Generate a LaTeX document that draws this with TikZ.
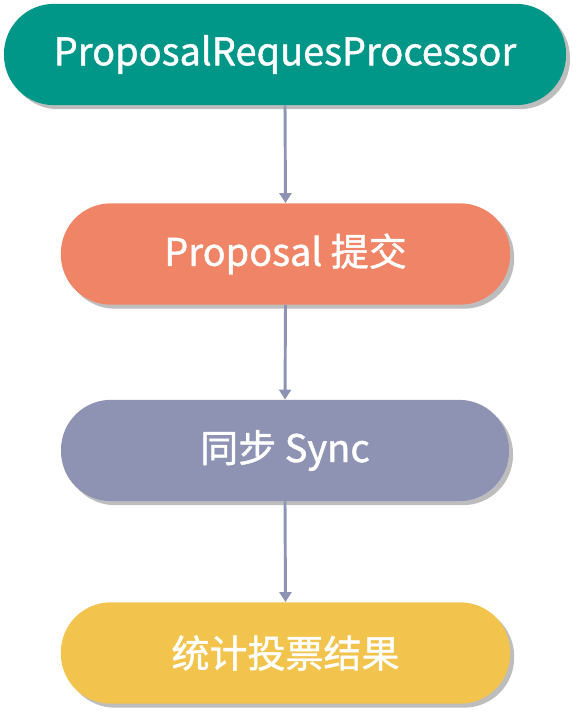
\documentclass[tikz,border=0pt]{standalone}
\usepackage{fontspec}
\setmainfont{Noto Sans CJK SC}[FakeBold=1.2]
\usetikzlibrary{shadows,arrows.meta}
\definecolor{cteal}{RGB}{0,150,136}
\definecolor{csalmon}{RGB}{240,132,102}
\definecolor{cslate}{RGB}{142,147,179}
\definecolor{cyellow}{RGB}{242,196,78}
\tikzset{
  pill/.style={rectangle, rounded corners=37.5pt, minimum height=76pt, inner sep=0pt,
    text=white, font=\fontsize{28.5}{32}\selectfont,
    drop shadow={shadow xshift=3pt, shadow yshift=-3pt, fill=black!30, opacity=0.85}},
  link/.style={draw=cslate, line width=2.2pt, -{Triangle[width=9pt,length=7.5pt]}}
}
\begin{document}
\begin{tikzpicture}[x=0.75pt,y=-0.75pt]
\useasboundingbox (0,0) rectangle (579,717);
\node[pill, fill=cteal, minimum width=421.5pt] (n1) at (285,54.5) {ProposalRequesProcessor};
\node[pill, fill=csalmon, minimum width=337pt] (n2) at (285.5,254) {Proposal 提交};
\node[pill, fill=cslate, minimum width=336pt] (n3) at (285,450.5) {同步 Sync};
\node[pill, fill=cyellow, minimum width=337pt] (n4) at (285.5,653) {统计投票结果};
\draw[link] (n1.south) -- (n2.north);
\draw[link] (n2.south) -- (n3.north);
\draw[link] (n3.south) -- (n4.north);
\end{tikzpicture}
\end{document}
